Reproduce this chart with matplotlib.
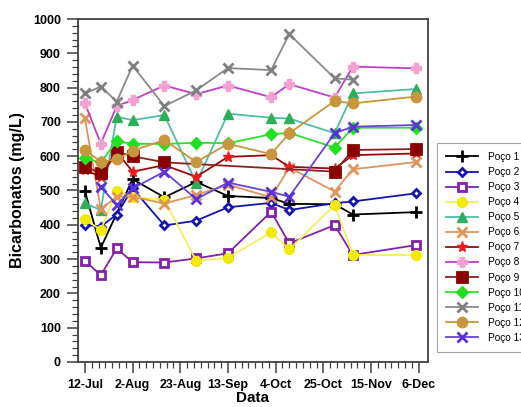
import datetime as dt
import matplotlib
matplotlib.use('Agg')
import matplotlib.pyplot as plt
from matplotlib.ticker import MultipleLocator

plt.rcParams['font.family'] = ['Liberation Sans', 'DejaVu Sans']

# datas de coleta
datas = [dt.date(2012, 7, 12), dt.date(2012, 7, 19), dt.date(2012, 7, 26),
         dt.date(2012, 8, 2), dt.date(2012, 8, 16), dt.date(2012, 8, 30),
         dt.date(2012, 9, 13), dt.date(2012, 10, 2), dt.date(2012, 10, 10),
         dt.date(2012, 10, 30), dt.date(2012, 11, 7), dt.date(2012, 12, 5)]

# bicarbonatos (mg/L) por poço, None = sem amostra
p1 = [498, 333, None, 533, 480, 525, 484, 478, 461, 460, 430, 437]
p2 = [400, 395, 430, 506, 398, 412, 451, 464, 443, 463, 468, 492]
p3 = [295, 253, 331, 291, 290, 302, 317, 438, 346, 399, 312, 341]
p4 = [416, 385, 498, 482, 473, 295, 304, 378, 328, 458, 312, 312]
p5 = [463, 443, 715, 705, 720, 522, 724, 712, 710, 667, 783, 796]
p6 = [710, 445, 482, 482, 462, 487, 517, 480, 567, 497, 562, 583]
p7 = [560, 540, 612, 555, 574, 540, 598, 603, 569, 564, 603, 608]
p8 = [754, 637, 746, 764, 806, 781, 806, 772, 810, 771, 861, 856]
p9 = [569, 552, 613, 600, 582, None, None, None, None, 555, 618, 621]
p10 = [594, 582, 644, 636, 636, 639, 638, 664, 668, 625, 683, 683]
p11 = [783, 803, 759, 864, 746, 792, 857, 851, 956, 827, 823, None]
p12 = [618, 584, 591, 616, 647, 583, 636, 606, 667, 761, 754, 774]
p13 = [None, 511, 458, 506, 555, 475, 523, 496, 482, 667, 686, 691]

nomes = ['Poço %d' % i for i in range(1, 14)]
series = [p1, p2, p3, p4, p5, p6, p7, p8, p9, p10, p11, p12, p13]

# (cor da linha, marcador, cor do marcador, face do marcador, tamanho)
estilos = [
    ('black', '+', 'black', 'black', 9),
    ('#1414b0', 'D', '#1414b0', 'white', 4.5),
    ('#8420aa', 's', '#8420aa', 'white', 6),
    ('#f4ef5a', 'o', '#f2ea00', '#f2ea00', 7),
    ('#4cbfa6', '^', '#2fae5a', '#2fae5a', 7),
    ('#e0945a', 'x', '#e0945a', '#e0945a', 7),
    ('#980808', '*', '#f01818', '#f01818', 8),
    ('#c23cc8', 'P', '#f2a2d2', '#f2a2d2', 7),
    ('#8c2020', 's', '#8b0000', '#8b0000', 6.5),
    ('#2ee02e', 'D', '#20e020', '#20e020', 5.5),
    ('#8a8a8a', 'x', '#808080', '#808080', 7),
    ('#c8963c', 'o', '#c8963c', '#c8963c', 7.5),
    ('#6a42d6', 'x', '#5a32d8', '#5a32d8', 7),
]

fig = plt.figure(figsize=(5.21, 4.07), dpi=100)
ax = fig.add_axes([0.149, 0.1106, 0.673, 0.8427])

for nome, vals, (cor, mk, mcor, mface, ms) in zip(nomes, series, estilos):
    xs = [d for d, v in zip(datas, vals) if v is not None]
    ys = [v for v in vals if v is not None]
    ax.plot(xs, ys, color=cor, lw=1.3, marker=mk, markersize=ms,
            markeredgecolor=mcor, markerfacecolor=mface,
            markeredgewidth=2 if mk in ('+', 'x', 's', 'D') else 1,
            label=nome)

ax.set_ylim(0, 1000)
ax.set_xlim(dt.datetime(2012, 7, 8, 19), dt.datetime(2012, 12, 10, 5))
ax.yaxis.set_major_locator(MultipleLocator(100))
ax.yaxis.set_minor_locator(MultipleLocator(20))

inicio = dt.date(2012, 7, 12)
ticks = [inicio + dt.timedelta(days=21 * i) for i in range(8)]
minor = [inicio + dt.timedelta(days=3 * i) for i in range(50)]
ax.set_xticks(ticks)
ax.set_xticks(minor, minor=True)
ax.set_xticklabels(['%d-%s' % (d.day, d.strftime('%b')) for d in ticks])

ax.tick_params(which='major', direction='out', length=8, width=1.1,
               color='#404040', labelsize=9, pad=4)
ax.tick_params(which='minor', direction='out', length=4, width=0.9,
               color='#404040')
ax.tick_params(top=False, right=False)
for lab in ax.get_xticklabels() + ax.get_yticklabels():
    lab.set_fontweight('bold')
for sp in ax.spines.values():
    sp.set_color('#404040')
    sp.set_linewidth(1.3)

ax.set_xlabel('Data', fontsize=11, fontweight='bold', labelpad=0)
ax.set_ylabel('Bicarbonatos (mg/L)', fontsize=11.5, fontweight='bold',
              labelpad=6)

# legenda à direita, cortada pela borda da figura
leg = fig.legend(loc='upper left', bbox_to_anchor=(0.839, 0.649),
                 borderaxespad=0, fontsize=7.3, frameon=True, fancybox=False,
                 edgecolor='#909090', handlelength=3.1, labelspacing=0.5,
                 borderpad=0.9, handletextpad=1.0)
leg.get_frame().set_linewidth(0.8)

fig.savefig('out.png', dpi=100)
